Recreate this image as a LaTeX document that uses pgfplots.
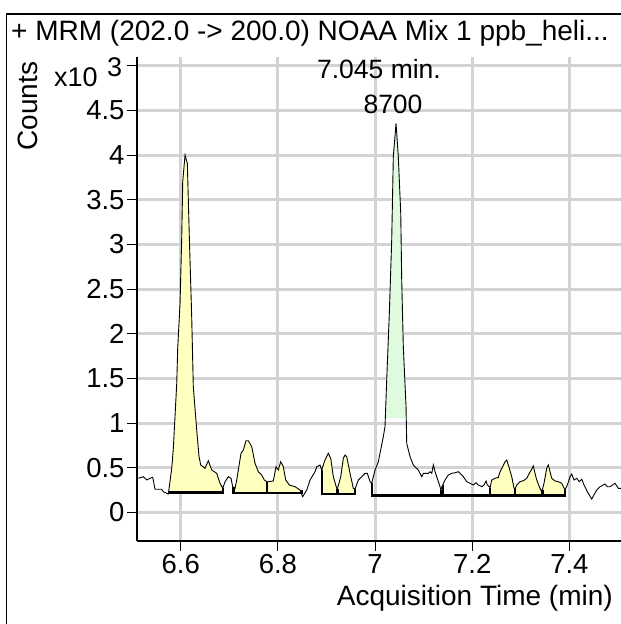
\documentclass[border=0pt]{standalone}
\usepackage{fontspec}
\setmainfont{Liberation Sans}
\usepackage{pgfplots}
\pgfplotsset{compat=1.18}
\definecolor{pkyellow}{RGB}{255,255,192}
\definecolor{pkgreen}{RGB}{224,250,224}
\definecolor{gridgray}{RGB}{211,211,211}
\newcommand{\bigf}{\fontsize{28bp}{32bp}\selectfont}
\newcommand{\tickf}{\fontsize{27.5bp}{31bp}\selectfont}
\begin{document}
\begin{tikzpicture}
\path[use as bounding box] (0bp,0bp) rectangle (621bp,624bp);
\draw[line width=1.6bp] (6.5bp,0bp) -- (6.5bp,610bp) -- (621bp,610bp);
\node[anchor=base west, inner sep=0pt, font=\bigf] at (11bp,583bp) {+ MRM (202.0 -> 200.0) NOAA Mix 1 ppb\_heli...};
\begin{axis}[
  at={(137bp,83bp)}, anchor=south west,
  scale only axis, width=484bp, height=484bp,
  xmin=6.510, xmax=7.5063, ymin=-0.321, ymax=5.099,
  axis x line*=bottom, axis y line*=left,
  axis line style={line width=1.2bp, -},
  xtick={6.6,6.8,7,7.2,7.4}, xticklabels={6.6,6.8,7,7.2,7.4},
  ytick={0,0.5,1,1.5,2,2.5,3,3.5,4,4.5,5},
  yticklabels={0,0.5,1,1.5,2,2.5,3,3.5,4,4.5,{}},
  tick align=outside, major tick length=10bp,
  tick style={black, line width=1bp},
  grid=major, major grid style={gridgray, line width=3bp},
  ticklabel style={font=\tickf},
  yticklabel style={xshift=1bp},
]
% yellow integrated peaks
\addplot[fill=pkyellow, draw=none] coordinates {(6.5745,0.22)(6.5815,0.493)(6.5848,0.717)(6.5918,1.445)(6.5938,1.837)(6.5986,2.340)(6.6021,3.086)(6.6041,3.702)(6.6089,4.001)(6.6136,3.908)(6.6177,3.086)(6.6226,2.190)(6.6259,1.407)(6.6329,0.922)(6.6377,0.623)(6.6412,0.530)(6.65,0.493)(6.6568,0.578)(6.6638,0.474)(6.6741,0.437)(6.6809,0.325)(6.6865,0.269)(6.6865,0.22)} -- cycle;
\addplot[fill=pkyellow, draw=none] coordinates {(6.709,0.215)(6.709,0.28)(6.7118,0.269)(6.7153,0.362)(6.7241,0.661)(6.7289,0.698)(6.7344,0.802)(6.7392,0.802)(6.7462,0.735)(6.7529,0.549)(6.7597,0.455)(6.7667,0.418)(6.7721,0.362)(6.777,0.343)(6.777,0.215)} -- cycle;
\addplot[fill=pkyellow, draw=none] coordinates {(6.777,0.215)(6.777,0.343)(6.7803,0.343)(6.7906,0.351)(6.7962,0.511)(6.8009,0.474)(6.8058,0.567)(6.8112,0.511)(6.8161,0.362)(6.8236,0.306)(6.8353,0.287)(6.8456,0.250)(6.849,0.22)(6.849,0.215)} -- cycle;
\addplot[fill=pkyellow, draw=none] coordinates {(6.8902,0.205)(6.8902,0.474)(6.897,0.586)(6.9038,0.661)(6.9088,0.605)(6.9141,0.399)(6.9211,0.269)(6.9224,0.261)(6.9224,0.205)} -- cycle;
\addplot[fill=pkyellow, draw=none] coordinates {(6.9224,0.205)(6.9224,0.261)(6.9294,0.399)(6.9347,0.605)(6.9382,0.642)(6.9417,0.623)(6.9485,0.437)(6.9553,0.269)(6.9588,0.261)(6.9588,0.205)} -- cycle;
\addplot[fill=pkyellow, draw=none] coordinates {(7.2367,0.19)(7.2367,0.272)(7.2402,0.362)(7.247,0.381)(7.2538,0.392)(7.2573,0.455)(7.2628,0.511)(7.2676,0.567)(7.2711,0.586)(7.2764,0.493)(7.2814,0.399)(7.2861,0.269)(7.2882,0.261)(7.2882,0.19)} -- cycle;
\addplot[fill=pkyellow, draw=none] coordinates {(7.2882,0.19)(7.2882,0.261)(7.2916,0.306)(7.2984,0.343)(7.3052,0.354)(7.3122,0.381)(7.3176,0.437)(7.3225,0.482)(7.3258,0.518)(7.3293,0.437)(7.3328,0.362)(7.3396,0.269)(7.3431,0.231)(7.3443,0.25)(7.3443,0.19)} -- cycle;
\addplot[fill=pkyellow, draw=none] coordinates {(7.3443,0.19)(7.3443,0.25)(7.3478,0.325)(7.3534,0.493)(7.3567,0.530)(7.3602,0.455)(7.3637,0.381)(7.3705,0.351)(7.3773,0.343)(7.3843,0.325)(7.3876,0.287)(7.3911,0.25)(7.3911,0.19)} -- cycle;
% green apex region
\addplot[fill=pkgreen, draw=none] coordinates {(7.0211,1.053)(7.024,1.482)(7.0294,2.228)(7.0343,3.049)(7.0376,3.982)(7.0432,4.356)(7.0479,3.982)(7.0529,3.348)(7.0549,2.601)(7.0582,1.854)(7.0638,1.183)(7.0642,1.053)} -- cycle;
% chromatogram trace
\addplot[black, line width=0.9bp] coordinates {(6.5127,0.381)(6.523,0.399)(6.530,0.362)(6.5368,0.381)(6.5424,0.392)(6.5471,0.258)(6.5609,0.258)(6.5642,0.231)(6.5745,0.205)(6.5815,0.493)(6.5848,0.717)(6.5918,1.445)(6.5938,1.837)(6.5986,2.340)(6.6021,3.086)(6.6041,3.702)(6.6089,4.001)(6.6136,3.908)(6.6177,3.086)(6.6226,2.190)(6.6259,1.407)(6.6329,0.922)(6.6377,0.623)(6.6412,0.530)(6.65,0.493)(6.6568,0.578)(6.6638,0.474)(6.6741,0.437)(6.6809,0.325)(6.6865,0.269)(6.6912,0.343)(6.698,0.399)(6.7035,0.381)(6.707,0.287)(6.7118,0.269)(6.7153,0.362)(6.7241,0.661)(6.7289,0.698)(6.7344,0.802)(6.7392,0.802)(6.7462,0.735)(6.7529,0.549)(6.7597,0.455)(6.7667,0.418)(6.7721,0.362)(6.777,0.343)(6.7803,0.343)(6.7906,0.351)(6.7962,0.511)(6.8009,0.474)(6.8058,0.567)(6.8112,0.511)(6.8161,0.362)(6.8236,0.306)(6.8353,0.287)(6.8456,0.25)(6.8511,0.175)(6.8594,0.25)(6.8662,0.362)(6.8765,0.455)(6.88,0.511)(6.8867,0.53)(6.8902,0.474)(6.897,0.586)(6.9038,0.661)(6.9088,0.605)(6.9141,0.399)(6.9211,0.269)(6.9224,0.261)(6.9294,0.399)(6.9347,0.605)(6.9382,0.642)(6.9417,0.623)(6.9485,0.437)(6.9553,0.269)(6.9588,0.261)(6.9656,0.362)(6.9726,0.399)(6.9794,0.437)(6.9841,0.437)(6.9897,0.343)(6.9932,0.325)(7.0,0.474)(7.0068,0.567)(7.0102,0.661)(7.017,0.847)(7.0205,0.959)(7.024,1.482)(7.0294,2.228)(7.0343,3.049)(7.0376,3.982)(7.0432,4.356)(7.0479,3.982)(7.0529,3.348)(7.0549,2.601)(7.0582,1.854)(7.0638,1.183)(7.0652,0.773)(7.072,0.623)(7.0788,0.53)(7.0891,0.474)(7.0961,0.399)(7.0994,0.437)(7.1097,0.437)(7.1132,0.455)(7.1167,0.437)(7.12,0.53)(7.1235,0.455)(7.1303,0.343)(7.1338,0.287)(7.1352,0.25)(7.1393,0.306)(7.1441,0.362)(7.1508,0.418)(7.1578,0.437)(7.1646,0.443)(7.1714,0.455)(7.1764,0.429)(7.1817,0.399)(7.1887,0.343)(7.1955,0.325)(7.2023,0.306)(7.2079,0.331)(7.2126,0.306)(7.2196,0.287)(7.2243,0.306)(7.2285,0.351)(7.2311,0.306)(7.2353,0.287)(7.2367,0.272)(7.2402,0.362)(7.247,0.381)(7.2538,0.392)(7.2573,0.455)(7.2628,0.511)(7.2676,0.567)(7.2711,0.586)(7.2764,0.493)(7.2814,0.399)(7.2861,0.269)(7.2882,0.261)(7.2916,0.306)(7.2984,0.343)(7.3052,0.354)(7.3122,0.381)(7.3176,0.437)(7.3225,0.482)(7.3258,0.518)(7.3293,0.437)(7.3328,0.362)(7.3396,0.269)(7.3431,0.231)(7.3443,0.25)(7.3478,0.325)(7.3534,0.493)(7.3567,0.53)(7.3602,0.455)(7.3637,0.381)(7.3705,0.351)(7.3773,0.343)(7.3843,0.325)(7.3876,0.287)(7.3911,0.25)(7.3958,0.306)(7.4014,0.399)(7.4049,0.429)(7.4096,0.362)(7.4152,0.381)(7.4205,0.343)(7.4255,0.37)(7.4302,0.306)(7.437,0.231)(7.446,0.149)(7.4563,0.25)(7.4631,0.287)(7.4734,0.317)(7.4781,0.287)(7.4837,0.287)(7.494,0.325)(7.5008,0.269)(7.5063,0.269)};
% integration baselines
\addplot[black, line width=2.4bp] coordinates {(6.5745,0.22)(6.6865,0.22)(6.6865,0.269)};
\addplot[black, line width=2.4bp] coordinates {(6.709,0.28)(6.709,0.215)(6.777,0.215)(6.777,0.343)};
\addplot[black, line width=2.4bp] coordinates {(6.777,0.215)(6.849,0.215)(6.849,0.25)};
\addplot[black, line width=2.4bp] coordinates {(6.8902,0.474)(6.8902,0.205)(6.9224,0.205)(6.9224,0.261)};
\addplot[black, line width=2.4bp] coordinates {(6.9224,0.205)(6.9588,0.205)(6.9588,0.261)};
\addplot[black, line width=2.4bp] coordinates {(6.9932,0.325)(6.9932,0.19)(7.1352,0.19)(7.1352,0.25)};
\addplot[black, line width=2.4bp] coordinates {(7.1393,0.306)(7.1393,0.19)(7.2367,0.19)(7.2367,0.272)};
\addplot[black, line width=2.4bp] coordinates {(7.2367,0.19)(7.2882,0.19)(7.2882,0.261)};
\addplot[black, line width=2.4bp] coordinates {(7.2882,0.19)(7.3443,0.19)(7.3443,0.25)};
\addplot[black, line width=2.4bp] coordinates {(7.3443,0.19)(7.3911,0.19)(7.3911,0.25)};
\end{axis}
\node[anchor=base, rotate=90, inner sep=0pt, font=\bigf] at (37bp,518bp) {Counts};
\node[anchor=base west, inner sep=0pt, font=\fontsize{27bp}{31bp}\selectfont] at (54bp,537bp) {x10};
\node[anchor=base west, inner sep=0pt, font=\fontsize{27bp}{31bp}\selectfont] at (107bp,547bp) {3};
\node[anchor=base east, inner sep=0pt, font=\bigf] at (613bp,19bp) {Acquisition Time (min)};
\node[anchor=base, inner sep=0pt, font=\fontsize{26.5bp}{30bp}\selectfont] at (379bp,545bp) {7.045 min.};
\node[anchor=base, inner sep=0pt, font=\fontsize{26.5bp}{30bp}\selectfont] at (393bp,510bp) {8700};
\end{tikzpicture}
\end{document}
